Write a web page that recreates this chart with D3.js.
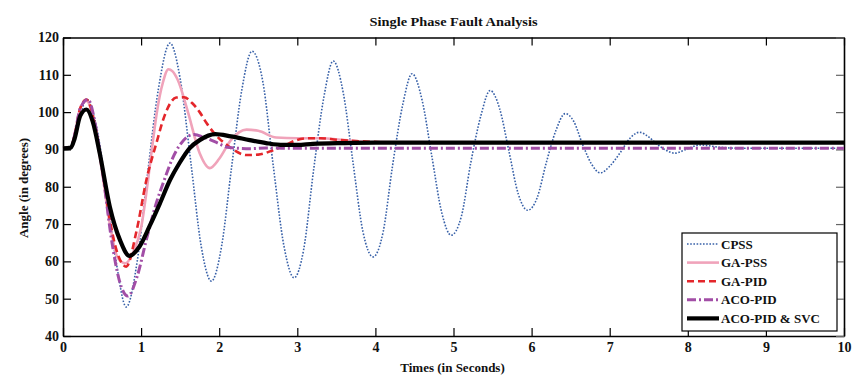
<!DOCTYPE html>
<html>
<head>
<meta charset="utf-8">
<script src="https://cdn.jsdelivr.net/npm/d3@7"></script>
<style>
    body { margin: 0; background: #fff; }
    #chart-area { width: 852px; height: 375px; }
    text { font-family: "Liberation Serif", "Times New Roman", serif; font-weight: bold; fill: #111; }
</style>
</head>
<body>
<div id="chart-area"></div>
<script>
// values (time in seconds, angle in degrees)
const cpssTime  = [0, 0.1, 0.2, 0.3, 0.42, 0.55, 0.68, 0.81, 0.95, 1.08, 1.22, 1.37, 1.5, 1.64, 1.77, 1.9, 2.03, 2.16, 2.29, 2.42, 2.56, 2.69, 2.83, 2.96, 3.08, 3.21, 3.34, 3.46, 3.59, 3.71, 3.84, 3.97, 4.1, 4.22, 4.35, 4.47, 4.6, 4.72, 4.85, 4.97, 5.1, 5.22, 5.35, 5.47, 5.59, 5.71, 5.83, 5.95, 6.07, 6.19, 6.31, 6.43, 6.54, 6.65, 6.77, 6.88, 7.0, 7.13, 7.26, 7.38, 7.49, 7.6, 7.72, 7.83, 8.0, 8.15, 8.4, 8.7, 10];
const cpssAngle = [90.3, 90.4, 97, 103.5, 97, 80, 60, 47.8, 60, 83, 106, 118.5, 109, 86, 64, 54.7, 64, 85.5, 106, 116.3, 108, 86, 64, 55.6, 63, 84.7, 104, 113.7, 105, 87, 68, 61.2, 68, 85.7, 102, 110.3, 103, 88.5, 73, 67, 72, 86.3, 99, 105.8, 101, 89.5, 78, 73.7, 77, 86.6, 95, 99.6, 97.5, 91.5, 86, 83.7, 85.5, 89, 93, 94.6, 93.5, 91.5, 89.8, 89, 90.2, 91.2, 90.6, 90.3, 90.3];

const gapssTime  = [0, 0.1, 0.15, 0.22, 0.3, 0.4, 0.5, 0.6, 0.7, 0.8, 0.9, 1.0, 1.09, 1.15, 1.2, 1.28, 1.35, 1.4, 1.47, 1.6, 1.75, 1.88, 2.0, 2.15, 2.35, 2.5, 2.73, 3.0, 3.3, 3.6, 4.0, 10];
const gapssAngle = [90.3, 90.5, 94, 101, 103, 97, 84, 70, 61, 59.5, 62.5, 69, 82, 92, 99.7, 108, 111.5, 111, 108.6, 100, 89, 85, 87.5, 92.5, 95.3, 95, 93.2, 93, 93, 92.5, 92, 91.8];

const gapidTime  = [0, 0.1, 0.15, 0.22, 0.3, 0.4, 0.5, 0.6, 0.7, 0.81, 0.94, 1.07, 1.2, 1.3, 1.45, 1.55, 1.65, 1.75, 1.84, 1.95, 2.13, 2.35, 2.5, 2.69, 2.85, 2.99, 3.15, 3.3, 3.5, 3.8, 4.2, 10];
const gapidAngle = [90.3, 90.5, 94, 101, 103.4, 97.5, 85, 71, 62, 58.6, 68, 82, 92, 99, 103.9, 104, 102.5, 100, 97, 94, 90.7, 88.5, 88.6, 89.8, 91.2, 92.5, 93, 93, 92.6, 92.2, 91.9, 91.8];

const acoTime  = [0, 0.1, 0.15, 0.22, 0.32, 0.42, 0.52, 0.62, 0.72, 0.83, 0.95, 1.07, 1.2, 1.3, 1.4, 1.49, 1.6, 1.68, 1.8, 1.95, 2.13, 2.4, 2.6, 3.0, 10];
const acoAngle = [90.3, 90.5, 94, 101, 103.4, 96, 82, 66, 55, 50.7, 56, 66, 76, 82, 87.5, 91, 93.5, 94, 93.3, 92, 90.5, 90.2, 90.4, 90.3, 90.3];

const svcTime  = [0, 0.1, 0.15, 0.22, 0.3, 0.38, 0.47, 0.6, 0.73, 0.85, 0.98, 1.11, 1.24, 1.37, 1.49, 1.62, 1.75, 1.95, 2.15, 2.39, 2.6, 2.82, 3.0, 3.2, 3.6, 4.0, 10];
const svcAngle = [90.3, 90.5, 93, 99, 100.7, 97.5, 89, 74.6, 65.7, 61.5, 64, 69.5, 75.5, 81.8, 86.3, 90.3, 92.5, 94.1, 93.5, 92.5, 91.7, 91.2, 91.2, 91.5, 91.7, 91.8, 91.8];

const seriesNames = ["CPSS", "GA-PSS", "GA-PID", "ACO-PID", "ACO-PID & SVC"];
const xTicks = [0, 1, 2, 3, 4, 5, 6, 7, 8, 9, 10];
const yTicks = [40, 50, 60, 70, 80, 90, 100, 110, 120];

class FaultChartVis {

    constructor(parentElement) {
        this.parentElement = parentElement;
        this.initVis();
    }

    initVis() {
        let vis = this;

        vis.margin = {top: 37.5, right: 8, bottom: 39, left: 63};
        vis.width = 852 - vis.margin.left - vis.margin.right;
        vis.height = 375 - vis.margin.top - vis.margin.bottom;

        vis.svg = d3.select("#" + vis.parentElement).append("svg")
            .attr("width", 852)
            .attr("height", 375)
            .append("g")
            .attr("transform", `translate(${vis.margin.left}, ${vis.margin.top})`);

        vis.xScale = d3.scaleLinear().domain([0, 10]).range([0, vis.width]);
        vis.yScale = d3.scaleLinear().domain([40, 120]).range([vis.height, 0]);

        // line styles per series
        vis.styles = [
            {color: "#3760a8", width: 1.6, dash: "1.6,1.6"},
            {color: "#f0a3ba", width: 2.6, dash: null},
            {color: "#e4262b", width: 2.6, dash: "7,4"},
            {color: "#a24ea6", width: 3, dash: "9,3,2,3"},
            {color: "#000000", width: 4.2, dash: null}
        ];

        vis.wrangleData();
    }

    wrangleData() {
        let vis = this;
        const pairs = [
            [cpssTime, cpssAngle], [gapssTime, gapssAngle], [gapidTime, gapidAngle],
            [acoTime, acoAngle], [svcTime, svcAngle]
        ];
        vis.displayData = pairs.map((p, i) => ({
            name: seriesNames[i],
            values: p[0].map((t, j) => ({t: t, v: p[1][j]}))
        }));
        vis.updateVis();
    }

    updateVis() {
        this.createAxis();
        this.createLines();
        this.createLegend();
        this.createLabels();
    }

    createAxis() {
        let vis = this;
        const tl = 8;

        vis.svg.append("g")
            .attr("class", "x-axis")
            .attr("transform", `translate(0, ${vis.height})`)
            .call(d3.axisBottom(vis.xScale).tickValues(xTicks).tickSize(-tl).tickPadding(6).tickSizeOuter(0));
        vis.svg.append("g")
            .attr("class", "x-axis-top")
            .call(d3.axisTop(vis.xScale).tickValues(xTicks).tickSize(-tl).tickFormat("").tickSizeOuter(0));
        vis.svg.append("g")
            .attr("class", "y-axis")
            .call(d3.axisLeft(vis.yScale).tickValues(yTicks).tickSize(-tl).tickPadding(4).tickSizeOuter(0));
        vis.svg.append("g")
            .attr("class", "y-axis-right")
            .attr("transform", `translate(${vis.width}, 0)`)
            .call(d3.axisRight(vis.yScale).tickValues(yTicks).tickSize(-tl).tickFormat("").tickSizeOuter(0));

        vis.svg.selectAll(".domain").attr("stroke", "#000").attr("stroke-width", 1.6);
        vis.svg.selectAll(".tick line").attr("stroke", "#000").attr("stroke-width", 1.2);
        vis.svg.selectAll(".y-axis-right .tick line").attr("stroke", "#666");
        vis.svg.selectAll(".tick text")
            .style("font-family", "Liberation Serif, serif")
            .style("font-weight", "bold")
            .style("font-size", "14px")
            .attr("fill", "#111");
    }

    createLines() {
        let vis = this;
        const line = d3.line()
            .curve(d3.curveMonotoneX)
            .x(d => vis.xScale(d.t))
            .y(d => vis.yScale(d.v));

        vis.svg.selectAll(".series")
            .data(vis.displayData)
            .enter()
            .append("path")
            .attr("class", "series")
            .attr("fill", "none")
            .attr("stroke", (d, i) => vis.styles[i].color)
            .attr("stroke-width", (d, i) => vis.styles[i].width)
            .attr("stroke-dasharray", (d, i) => vis.styles[i].dash)
            .attr("stroke-linejoin", "round")
            .attr("d", d => line(d.values));
    }

    createLegend() {
        let vis = this;
        const lx = 682 - vis.margin.left, ly = 233 - vis.margin.top;

        const legend = vis.svg.append("g")
            .attr("class", "legend")
            .attr("transform", `translate(${lx}, ${ly})`);

        legend.append("rect")
            .attr("width", 155)
            .attr("height", 98)
            .attr("fill", "#fff")
            .attr("stroke", "#000")
            .attr("stroke-width", 1.2);

        const rows = legend.selectAll(".legend-row")
            .data(seriesNames)
            .enter()
            .append("g")
            .attr("class", "legend-row")
            .attr("transform", (d, i) => `translate(0, ${11 + i * 18.6})`);

        rows.append("line")
            .attr("x1", 5).attr("x2", 37)
            .attr("stroke", (d, i) => vis.styles[i].color)
            .attr("stroke-width", (d, i) => vis.styles[i].width)
            .attr("stroke-dasharray", (d, i) => vis.styles[i].dash);

        rows.append("text")
            .attr("x", 39)
            .attr("dy", "0.35em")
            .style("font-size", "13px")
            .text(d => d);
    }

    createLabels() {
        let vis = this;

        vis.svg.append("text")
            .attr("x", vis.width / 2)
            .attr("y", -12)
            .attr("text-anchor", "middle")
            .attr("textLength", 168)
            .attr("lengthAdjust", "spacingAndGlyphs")
            .style("font-size", "12.5px")
            .text("Single Phase Fault Analysis");

        vis.svg.append("text")
            .attr("x", vis.width / 2 - 1)
            .attr("y", vis.height + 36)
            .attr("text-anchor", "middle")
            .style("font-size", "13px")
            .text("Times (in Seconds)");

        vis.svg.append("text")
            .attr("transform", `translate(${-35}, ${188 - vis.margin.top}) rotate(-90)`)
            .attr("text-anchor", "middle")
            .style("font-size", "13px")
            .text("Angle (in degrees)");
    }
}

new FaultChartVis("chart-area");
</script>
</body>
</html>
